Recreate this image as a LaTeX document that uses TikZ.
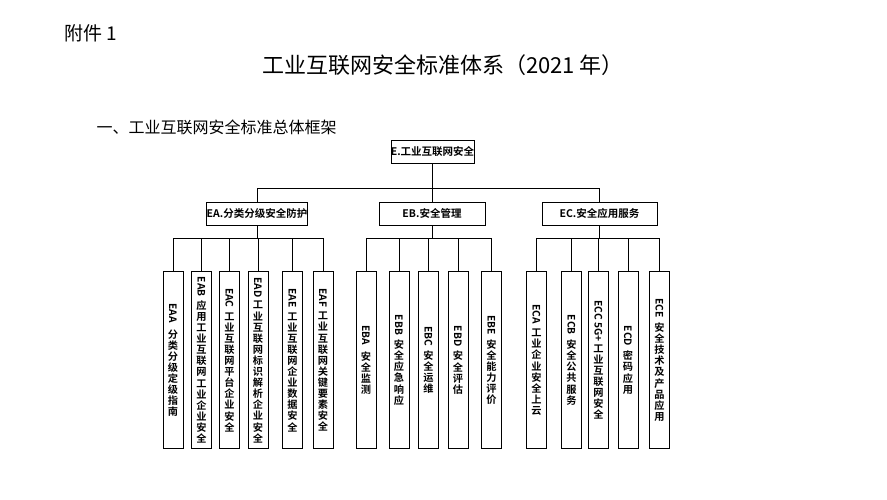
\documentclass[tikz,border=0pt]{standalone}
\usepackage{fontspec}
\setmainfont{Liberation Serif}
\newfontfamily\cjk{Noto Sans CJK SC}
\newfontfamily\cjkb{Noto Sans CJK SC Bold}
\newcommand{\vlat}[1]{\rotatebox{-90}{#1}}
\begin{document}
\begin{tikzpicture}[x=1pt,y=-1pt,
 box/.style={draw,line width=0.6pt,inner sep=0pt,font=\cjkb\fontsize{10.5}{12}\selectfont},
 leaf/.style={draw,line width=0.6pt,inner sep=0pt,minimum width=20pt,minimum height=177pt},
 ltext/.style={align=center,font=\cjkb\fontsize{10.2}{11.1}\selectfont,inner sep=0pt},
 con/.style={line width=0.6pt}]
\useasboundingbox (0,0) rectangle (887,500);
\node[font=\cjk\fontsize{19}{22}\selectfont,anchor=west] (att) at (61,33) {附件 1};
\node[font=\cjk\fontsize{22}{26}\selectfont] (title) at (443,65) {工业互联网安全标准体系（2021 年）};
\node[font=\cjk\fontsize{16}{19}\selectfont,anchor=west] (sec) at (93,127) {一、工业互联网安全标准总体框架};
\node[box,minimum width=81pt,minimum height=23pt] (E) at (432.5,151.5) {E.工业互联网安全};
\node[box,minimum width=100pt,minimum height=23pt] (EA) at (257,213.5) {EA.分类分级安全防护};
\node[box,minimum width=106pt,minimum height=23pt] (EB) at (432,213.5) {EB.安全管理};
\node[box,minimum width=115pt,minimum height=23pt] (EC) at (599.5,213.5) {EC.安全应用服务};
\coordinate (b0) at (0,188);
\draw[con] (E.south) -- (E.south |- b0);
\draw[con] (EA.north) -- (EA.north |- b0) -- (EC.north |- b0) -- (EC.north);
\draw[con] (EB.north) -- (EB.north |- b0);
\coordinate (b1) at (0,238);
\foreach \n/\x/\t in {
 EAA/173/{\vlat{EAA}\\[6pt]分\\类\\分\\级\\定\\级\\指\\南},
 EAB/201.5/{\vlat{EAB}\\[3pt]应\\用\\工\\业\\互\\联\\网\\工\\业\\企\\业\\安\\全},
 EAC/229.5/{\vlat{EAC}\\[4pt]工\\业\\互\\联\\网\\平\\台\\企\\业\\安\\全},
 EAD/258/{\vlat{EAD}\\[3pt]工\\业\\互\\联\\网\\标\\识\\解\\析\\企\\业\\安\\全},
 EAE/292.5/{\vlat{EAE}\\[4pt]工\\业\\互\\联\\网\\企\\业\\数\\据\\安\\全},
 EAF/323/{\vlat{EAF}\\[4pt]工\\业\\互\\联\\网\\关\\键\\要\\素\\安\\全},
 EBA/366/{\vlat{EBA}\\[6pt]安\\全\\监\\测},
 EBB/399/{\vlat{EBB}\\[4pt]安\\全\\应\\急\\响\\应},
 EBC/428.5/{\vlat{EBC}\\[4pt]安\\全\\运\\维},
 EBD/458/{\vlat{EBD}\\[4pt]安\\全\\评\\估},
 EBE/491.5/{\vlat{EBE}\\[4pt]安\\全\\能\\力\\评\\价},
 ECA/536.5/{\vlat{ECA}\\[4pt]工\\业\\企\\业\\安\\全\\上\\云},
 ECB/571.5/{\vlat{ECB}\\[4pt]安\\全\\公\\共\\服\\务},
 ECC/598.5/{\vlat{ECC 5G+}\\[2pt]工\\业\\互\\联\\网\\安\\全},
 ECD/628/{\vlat{ECD}\\[4pt]密\\码\\应\\用},
 ECE/659.5/{\vlat{ECE}\\[4pt]安\\全\\技\\术\\及\\产\\品\\应\\用}}{
 \node[leaf] (\n) at (\x,360) {};
 \node[ltext] (\n t) at (\n.center) {\t};
 \draw[con] (\n.north) -- (\n.north |- b1);
}
\draw[con] (EA.south) -- (EA.south |- b1);
\draw[con] (EB.south) -- (EB.south |- b1);
\draw[con] (EC.south) -- (EC.south |- b1);
\draw[con] (EAA.north |- b1) -- (EAF.north |- b1);
\draw[con] (EBA.north |- b1) -- (EBE.north |- b1);
\draw[con] (ECA.north |- b1) -- (ECE.north |- b1);
\end{tikzpicture}
\end{document}
